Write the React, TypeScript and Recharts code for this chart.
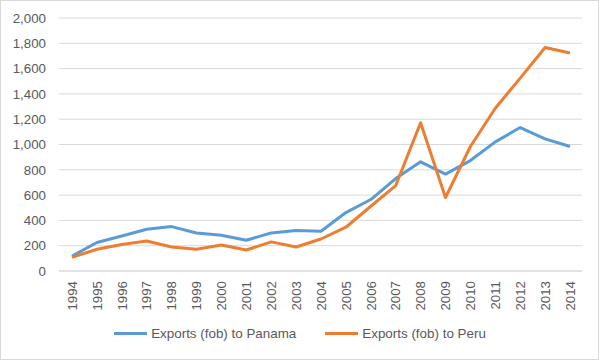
import { LineChart, Line, XAxis, YAxis, CartesianGrid, Legend } from "recharts";

const years = [
  "1994", "1995", "1996", "1997", "1998", "1999", "2000", "2001", "2002", "2003", "2004",
  "2005", "2006", "2007", "2008", "2009", "2010", "2011", "2012", "2013", "2014",
];
const panama = [118, 225, 277, 330, 351, 301, 283, 243, 301, 320, 314, 462, 565, 731, 863, 766, 873, 1021, 1134, 1045, 984];
const peru = [108, 172, 209, 237, 190, 172, 206, 166, 230, 190, 253, 346, 512, 675, 1172, 581, 984, 1287, 1525, 1767, 1723];
const yTicks = [0, 200, 400, 600, 800, 1000, 1200, 1400, 1600, 1800, 2000];

const data = years.map((year, i) => ({ year, panama: panama[i], peru: peru[i] }));

const FONT = "'Liberation Sans', Arial, sans-serif";
const TEXT = "#595959";
const GRID = "#d9d9d9";
const BLUE = "#5b9bd5";
const ORANGE = "#ed7d31";

function YearTick(props: any) {
  const { x, y, payload } = props;
  return (
    <text
      x={x}
      y={y}
      transform={`rotate(-90, ${x}, ${y})`}
      textAnchor="end"
      dy="0.36em"
      fill={TEXT}
      fontSize={13.3}
      fontFamily={FONT}
    >
      {payload.value}
    </text>
  );
}

function ChartLegend(props: any) {
  const items = props.payload || [];
  return (
    <div style={{ display: "flex", justifyContent: "center", gap: 29, fontFamily: FONT, fontSize: 13.4, color: TEXT }}>
      {items.map((it: any) => (
        <div key={it.value} style={{ display: "flex", alignItems: "center", gap: 4 }}>
          <span style={{ width: 33, height: 3, backgroundColor: it.color, display: "inline-block" }} />
          <span>{it.value}</span>
        </div>
      ))}
    </div>
  );
}

export default function App() {
  return (
    <div style={{ position: "absolute", left: 0, top: 0, width: 600, height: 361, background: "#fff" }}>
      <div
        style={{
          position: "absolute",
          left: 0,
          top: 0,
          width: 599,
          height: 360,
          border: `1px solid ${GRID}`,
          boxSizing: "border-box",
        }}
      />
      <LineChart width={600} height={361} data={data} margin={{ top: 18, right: 18, left: 0, bottom: 0 }}>
        <CartesianGrid vertical={false} stroke={GRID} />
        <XAxis
          dataKey="year"
          height={90}
          padding={{ left: 13, right: 12 }}
          interval={0}
          tickLine={false}
          tickSize={0}
          tickMargin={10}
          axisLine={{ stroke: GRID }}
          tick={<YearTick />}
        />
        <YAxis
          width={59}
          domain={[0, 2000]}
          ticks={yTicks}
          axisLine={false}
          tickLine={false}
          tickSize={0}
          tickMargin={13}
          tickFormatter={(v: number) => v.toLocaleString("en-US")}
          tick={{ fill: TEXT, fontSize: 13.3, fontFamily: FONT }}
        />
        <Legend
          verticalAlign="middle"
          layout="horizontal"
          content={<ChartLegend />}
          wrapperStyle={{ top: 326, left: 0, width: 600 }}
        />
        <Line
          name="Exports (fob) to Panama"
          dataKey="panama"
          stroke={BLUE}
          strokeWidth={3}
          dot={false}
          strokeLinejoin="round"
          isAnimationActive={false}
        />
        <Line
          name="Exports (fob) to Peru"
          dataKey="peru"
          stroke={ORANGE}
          strokeWidth={3}
          dot={false}
          strokeLinejoin="round"
          isAnimationActive={false}
        />
      </LineChart>
    </div>
  );
}
